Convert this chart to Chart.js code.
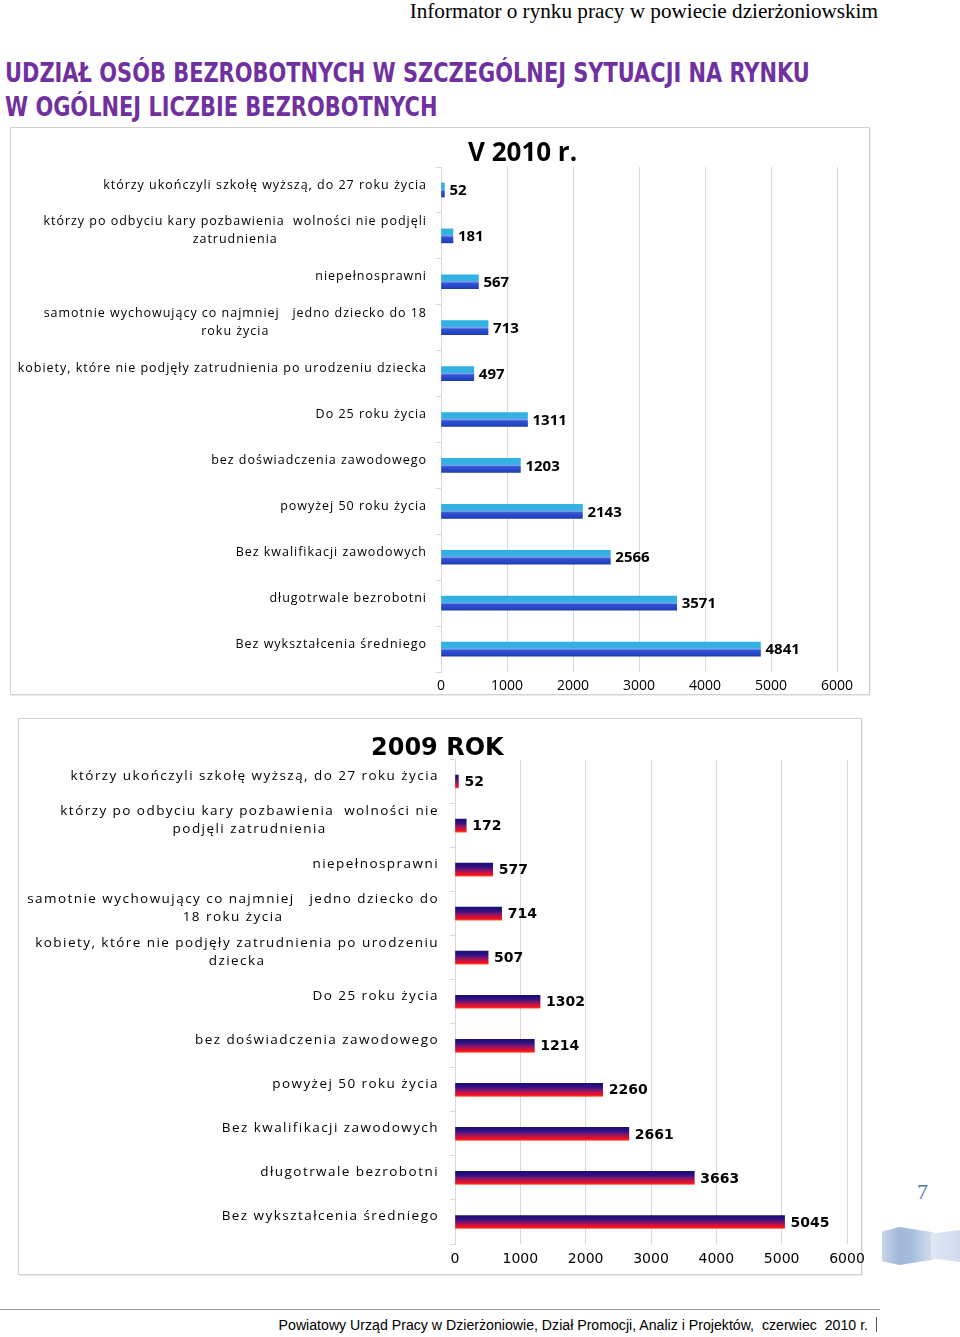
<!DOCTYPE html>
<html lang="pl">
<head>
<meta charset="utf-8">
<title>Udział osób bezrobotnych w szczególnej sytuacji na rynku</title>
<script src="https://cdn.jsdelivr.net/npm/chart.js@4.4.1/dist/chart.umd.min.js"></script>
<style>
  body { margin: 0; background: #fff; }
  #page { position: relative; width: 960px; height: 1337px; overflow: hidden; }
  .header { position: absolute; right: 82px; top: 1px; font: 21.2px/21px "Liberation Serif", serif; color: #000; white-space: nowrap; }
  .title { position: absolute; left: 5px; top: 56px; font: bold 26px/34px "Liberation Sans Narrow", "DejaVu Sans Condensed", sans-serif; color: #7030a0; white-space: nowrap; transform: scaleX(0.895); transform-origin: 0 0; }
  .frame { position: absolute; border: 1px solid #d2d2d2; box-shadow: 1px 1px 0 #ececec; box-sizing: border-box; }
  canvas { position: absolute; }
  .ctitle { position: absolute; white-space: nowrap; color: #000; }
  #t2010 { left: 468px; top: 138px; font: bold 26px/26px "Open Sans", sans-serif; }
  #t2009 { left: 371px; top: 735px; font: bold 24px/24px "DejaVu Sans", sans-serif; }
  .footline { position: absolute; left: 0; top: 1309px; width: 880px; border-top: 1px solid #a0a0a0; }
  .footer { position: absolute; right: 92px; top: 1317px; font: 14.15px/16px "Liberation Sans", Arial, sans-serif; white-space: pre; color: #000; }
  .bar { position: absolute; left: 876px; top: 1317px; width: 1px; height: 15px; background: #555; }
  .pnum { position: absolute; left: 917px; top: 1181px; font: 22px/22px "Liberation Serif", serif; color: #5a78ac; }
  .rib1 { position: absolute; left: 882px; top: 1227px; width: 51px; height: 38px;
          background: linear-gradient(90deg, #c9d6ea 0%, #9fb6da 35%, #a9bfdf 60%, #d3deef 100%);
          clip-path: polygon(0 12%, 34% 0, 100% 14%, 100% 86%, 34% 100%, 0 90%); }
  .rib2 { position: absolute; left: 931px; top: 1230px; width: 29px; height: 32px;
          background: linear-gradient(90deg, #dfe7f3 0%, #cfdbee 100%);
          clip-path: polygon(0 12%, 100% 0, 100% 100%, 0 88%); }
</style>
</head>
<body>
<div id="page">
  <div class="header">Informator o rynku pracy w powiecie dzierżoniowskim</div>
  <div class="title">UDZIAŁ OSÓB BEZROBOTNYCH W SZCZEGÓLNEJ SYTUACJI NA RYNKU<br>W OGÓLNEJ LICZBIE BEZROBOTNYCH</div>

  <div class="frame" style="left:10px; top:127px; width:860px; height:568px;"></div>
  <canvas id="chart2010" style="left:10px; top:127px;"></canvas>
  <div class="ctitle" id="t2010">V 2010 r.</div>

  <div class="frame" style="left:18px; top:718px; width:844px; height:557px;"></div>
  <canvas id="chart2009" style="left:18px; top:718px;"></canvas>
  <div class="ctitle" id="t2009">2009 ROK</div>

  <div class="pnum">7</div>
  <div class="rib1"></div>
  <div class="rib2"></div>
  <div class="footline"></div>
  <div class="footer">Powiatowy Urząd Pracy w Dzierżoniowie, Dział Promocji, Analiz i Projektów,  czerwiec  2010 r.</div>
  <div class="bar"></div>
</div>

<script>
const categories2010 = [
  "którzy ukończyli szkołę wyższą, do 27 roku życia",
  ["którzy po odbyciu kary pozbawienia  wolności nie podjęli", "zatrudnienia"],
  "niepełnosprawni",
  ["samotnie wychowujący co najmniej   jedno dziecko do 18", "roku życia"],
  "kobiety, które nie podjęły zatrudnienia po urodzeniu dziecka",
  "Do 25 roku życia",
  "bez doświadczenia zawodowego",
  "powyżej 50 roku życia",
  "Bez kwalifikacji zawodowych",
  "długotrwale bezrobotni",
  "Bez wykształcenia średniego",
];
const values2010 = [52, 181, 567, 713, 497, 1311, 1203, 2143, 2566, 3571, 4841];

const categories2009 = [
  "którzy ukończyli szkołę wyższą, do 27 roku życia",
  ["którzy po odbyciu kary pozbawienia  wolności nie", "podjęli zatrudnienia"],
  "niepełnosprawni",
  ["samotnie wychowujący co najmniej   jedno dziecko do", "18 roku życia"],
  ["kobiety, które nie podjęły zatrudnienia po urodzeniu", "dziecka"],
  "Do 25 roku życia",
  "bez doświadczenia zawodowego",
  "powyżej 50 roku życia",
  "Bez kwalifikacji zawodowych",
  "długotrwale bezrobotni",
  "Bez wykształcenia średniego",
];
const values2009 = [52, 172, 577, 714, 507, 1302, 1214, 2260, 2661, 3663, 5045];

const xTickValues = [0, 1000, 2000, 3000, 4000, 5000, 6000];

const blueStops = [[0, "#2eb2e2"], [0.4, "#36b0e4"], [0.5, "#7aa2ee"], [0.6, "#3352d2"], [0.9, "#2544c4"], [1, "#1c3aa8"]];
const redStops = [[0, "#14107a"], [0.3, "#36107e"], [0.55, "#86166a"], [0.78, "#dc1034"], [0.9, "#f20a22"], [1, "#ff5a28"]];

// vertical gradient per bar, placed from the y scale
const barFill = (stops, thickness) => (ctx) => {
  const yScale = ctx.chart.scales.y;
  if (!yScale || ctx.dataIndex === undefined) return stops[0][1];
  const yc = yScale.getPixelForValue(ctx.dataIndex);
  if (!isFinite(yc)) return stops[0][1];
  const g = ctx.chart.ctx.createLinearGradient(0, yc - thickness / 2, 0, yc + thickness / 2);
  stops.forEach(([o, c]) => g.addColorStop(o, c));
  return g;
};

// category labels: block right-aligned to the axis, lines centred inside it
const rowLabels = {
  id: "rowLabels",
  afterDraw(chart, args, o) {
    const { ctx, chartArea } = chart;
    const yScale = chart.scales.y;
    ctx.save();
    ctx.font = o.font;
    ctx.letterSpacing = o.spacing;
    ctx.fillStyle = "#000";
    ctx.textAlign = "center";
    ctx.textBaseline = "middle";
    chart.data.labels.forEach((label, i) => {
      const lines = [].concat(label);
      const w = Math.max(...lines.map((l) => ctx.measureText(l).width));
      const cx = chartArea.left - o.gap - w / 2;
      const cy = yScale.getPixelForValue(i) + o.dy;
      lines.forEach((l, k) => {
        ctx.fillText(l, cx, cy + (k - (lines.length - 1) / 2) * o.lineHeight);
      });
    });
    ctx.restore();
  },
};

const valueLabels = {
  id: "valueLabels",
  afterDatasetsDraw(chart, args, o) {
    const { ctx } = chart;
    const data = chart.data.datasets[0].data;
    ctx.save();
    ctx.font = o.font;
    ctx.fillStyle = "#000";
    ctx.textAlign = "left";
    ctx.textBaseline = "middle";
    chart.getDatasetMeta(0).data.forEach((bar, i) => {
      ctx.fillText(String(data[i]), bar.x + o.gap, bar.y + 1);
    });
    ctx.restore();
  },
};

const makeChart = (id, cfg) => {
  const canvas = document.getElementById(id);
  canvas.width = cfg.width;
  canvas.height = cfg.height;
  canvas.style.width = cfg.width + "px";
  canvas.style.height = cfg.height + "px";
  return new Chart(canvas.getContext("2d"), {
    type: "bar",
    data: {
      labels: cfg.labels,
      datasets: [{
        data: cfg.values,
        backgroundColor: barFill(cfg.stops, cfg.thickness),
        borderWidth: 0,
        barThickness: cfg.thickness,
      }],
    },
    plugins: [rowLabels, valueLabels],
    options: {
      indexAxis: "y",
      responsive: false,
      animation: false,
      events: [],
      layout: { padding: { left: 0, right: cfg.padRight, top: cfg.padTop, bottom: 0 } },
      plugins: {
        legend: { display: false },
        tooltip: { enabled: false },
        rowLabels: cfg.rowLabels,
        valueLabels: cfg.valueLabels,
      },
      scales: {
        x: {
          min: 0,
          max: 6000,
          afterBuildTicks: (s) => { s.ticks = xTickValues.map((v) => ({ value: v })); },
          afterFit: (s) => { s.height = cfg.axisHeight; },
          grid: { color: "#d9d9d9", drawTicks: false },
          border: { display: false },
          ticks: {
            font: cfg.tickFont, color: "#000", padding: cfg.tickPadding,
            maxRotation: 0, autoSkip: false,
            callback: (v) => String(v),
          },
        },
        y: {
          afterFit: (s) => { s.width = cfg.axisWidth; },
          grid: { drawOnChartArea: false, drawTicks: true, tickLength: 5, color: "#d9d9d9" },
          border: { display: true, color: "#d9d9d9" },
          ticks: { display: false },
        },
      },
    },
  });
};

makeChart("chart2010", {
  width: 860, height: 568,
  labels: categories2010, values: values2010,
  stops: blueStops, thickness: 14,
  padRight: 33, padTop: 40, axisHeight: 23, axisWidth: 431,
  tickFont: { family: "Open Sans", size: 14 }, tickPadding: 6,
  rowLabels: { font: "12.5px 'Open Sans'", spacing: "0.98px", gap: 14, dy: -5, lineHeight: 18 },
  valueLabels: { font: "bold 15px 'Open Sans'", gap: 5 },
});

makeChart("chart2009", {
  width: 860, height: 557,
  labels: categories2009, values: values2009,
  stops: redStops, thickness: 13,
  padRight: 31, padTop: 41.5, axisHeight: 31, axisWidth: 437,
  tickFont: { family: "DejaVu Sans", size: 14 }, tickPadding: 7,
  rowLabels: { font: "13.5px 'Open Sans'", spacing: "1.45px", gap: 16, dy: -5.5, lineHeight: 18 },
  valueLabels: { font: "bold 14px 'DejaVu Sans'", gap: 6 },
});
</script>
</body>
</html>
